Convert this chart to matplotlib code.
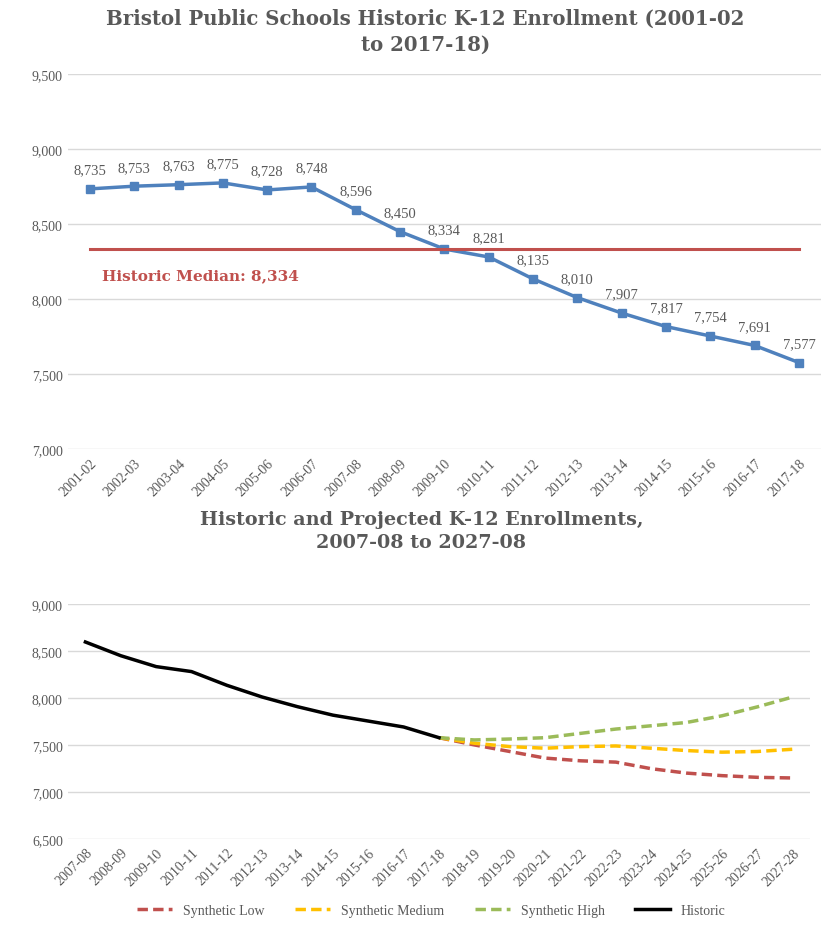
import matplotlib.pyplot as plt
from matplotlib.ticker import FuncFormatter

# top chart: historic enrollment
years_hist = ["2001-02", "2002-03", "2003-04", "2004-05", "2005-06", "2006-07",
              "2007-08", "2008-09", "2009-10", "2010-11", "2011-12", "2012-13",
              "2013-14", "2014-15", "2015-16", "2016-17", "2017-18"]
enroll_hist = [8735, 8753, 8763, 8775, 8728, 8748, 8596, 8450, 8334, 8281,
               8135, 8010, 7907, 7817, 7754, 7691, 7577]
median_val = 8334

# bottom chart: historic + projections
years_proj = ["2007-08", "2008-09", "2009-10", "2010-11", "2011-12", "2012-13",
              "2013-14", "2014-15", "2015-16", "2016-17", "2017-18", "2018-19",
              "2019-20", "2020-21", "2021-22", "2022-23", "2023-24", "2024-25",
              "2025-26", "2026-27", "2027-28"]
historic = [8596, 8450, 8334, 8281, 8135, 8010, 7907, 7817, 7754, 7691, 7577]
synth_low = [7577, 7500, 7430, 7360, 7331, 7317, 7247, 7200, 7173, 7155, 7148]
synth_med = [7577, 7518, 7482, 7465, 7482, 7489, 7465, 7440, 7423, 7430, 7454]
synth_high = [7577, 7553, 7563, 7577, 7623, 7669, 7704, 7739, 7810, 7905, 8010]

plt.rcParams['font.family'] = ['Liberation Serif', 'DejaVu Serif']
GRAY = '#595959'
GRID = '#d9d9d9'
TITLE_FONT = ['DejaVu Serif']

fig = plt.figure(figsize=(8.26, 9.28), dpi=100)
ax1 = fig.add_axes([0.082, 0.515, 0.912, 0.404])
ax2 = fig.add_axes([0.082, 0.095, 0.899, 0.253])

comma = FuncFormatter(lambda v, p: f"{int(v):,}")


def style_axis(ax, ylim, labels):
	ax.set_ylim(*ylim)
	ax.set_yticks(range(ylim[0], ylim[1] + 1, 500))
	ax.yaxis.set_major_formatter(comma)
	ax.set_xlim(-0.5, len(labels) - 0.5)
	ax.set_xticks(range(len(labels)))
	ax.set_xticklabels(labels, rotation=45, ha='right', rotation_mode='anchor')
	ax.tick_params(length=0, colors=GRAY, labelsize=10)
	ax.tick_params(axis='x', pad=5)
	ax.grid(axis='y', color=GRID, linewidth=1)
	ax.set_axisbelow(True)
	for s in ax.spines.values():
		s.set_visible(False)


# --- top chart
x1 = range(len(years_hist))
ax1.plot(x1, enroll_hist, color='#4f81bd', linewidth=2.5, marker='s', markersize=6)
ax1.plot([0, len(years_hist) - 1], [median_val, median_val], color='#c0504d', linewidth=2.2)
for i, v in zip(x1, enroll_hist):
	ax1.annotate(f"{v:,}", (i, v), xytext=(0, 9), textcoords='offset points',
				 ha='center', va='bottom', fontsize=10.5, color=GRAY)
ax1.text(0.27, median_val - 125, f"Historic Median: {median_val:,}", color='#c0504d',
		 fontsize=11, fontweight='bold', va='top', family=TITLE_FONT)
style_axis(ax1, (7000, 9500), years_hist)
fig.text(0.515, 1 - 9 / 928, "Bristol Public Schools Historic K-12 Enrollment (2001-02\nto 2017-18)",
		 ha='center', va='top', fontsize=14.2, fontweight='bold', color=GRAY,
		 family=TITLE_FONT, linespacing=1.35)

# --- bottom chart
n_hist = len(historic)
x_proj = range(n_hist - 1, len(years_proj))
ax2.plot(x_proj, synth_low, color='#c0504d', linewidth=2.5, linestyle=(0, (3, 1.5)),
		 label='Synthetic Low')
ax2.plot(x_proj, synth_med, color='#ffc000', linewidth=2.5, linestyle=(0, (3, 1.5)),
		 label='Synthetic Medium')
ax2.plot(x_proj, synth_high, color='#9bbb59', linewidth=2.5, linestyle=(0, (3, 1.5)),
		 label='Synthetic High')
ax2.plot(range(n_hist), historic, color='black', linewidth=2.5, label='Historic')
style_axis(ax2, (6500, 9000), years_proj)
fig.text(0.51, 1 - 511 / 928, "Historic and Projected K-12 Enrollments,\n2007-08 to 2027-08",
		 ha='center', va='top', fontsize=13.8, fontweight='bold', color=GRAY,
		 family=TITLE_FONT, linespacing=1.35)
ax2.legend(loc='upper center', bbox_to_anchor=(0.49, -0.225), ncol=4, frameon=False,
		   fontsize=10, labelcolor=GRAY, handlelength=2.5, columnspacing=2.2)

fig.savefig('out.png', dpi=100, facecolor='white')
